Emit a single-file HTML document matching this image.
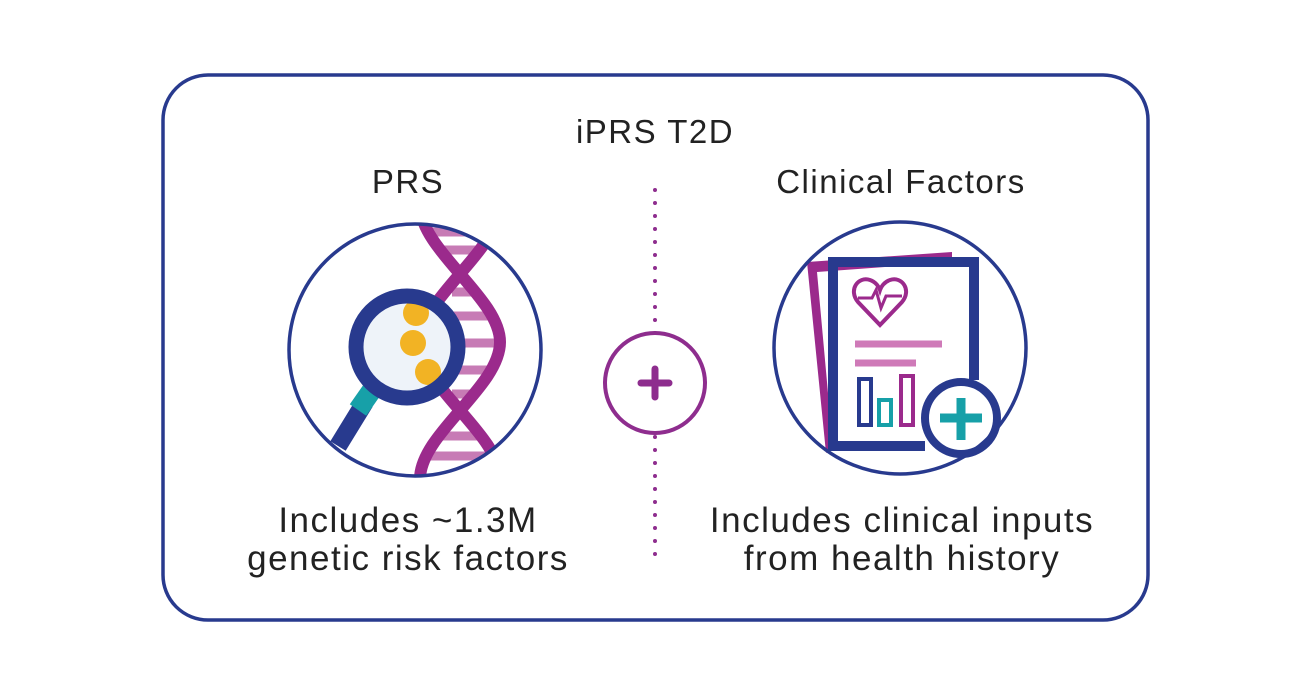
<!DOCTYPE html>
<html><head><style>body{margin:0;background:#fff}svg{display:block}</style></head><body>
<svg width="1311" height="686" viewBox="0 0 1311 686" xmlns="http://www.w3.org/2000/svg" font-family="Liberation Sans, sans-serif">
<defs>
<clipPath id="c1"><circle cx="415" cy="350" r="125"/></clipPath>
<clipPath id="lens"><circle cx="407" cy="347" r="50"/></clipPath>
</defs>
<rect x="163" y="75" width="985" height="545" rx="45" fill="none" stroke="#283a8e" stroke-width="3.5"/>
<g font-size="33" fill="#222" text-anchor="middle" letter-spacing="1.5">
<text x="655" y="143">iPRS T2D</text>
<text x="408" y="193">PRS</text>
<text x="901" y="193">Clinical Factors</text>
</g>
<line x1="655" y1="190" x2="655" y2="562" stroke="#8e2d8e" stroke-width="4" stroke-dasharray="0 13" stroke-linecap="round"/>
<circle cx="655" cy="383" r="50" fill="#fff" stroke="#8e2d8e" stroke-width="4"/>
<path d="M655 369v28M641 383h28" stroke="#8e2d8e" stroke-width="7" stroke-linecap="round"/>
<g font-size="35" fill="#222" text-anchor="middle" letter-spacing="1.5">
<text x="408" y="532">Includes ~1.3M</text>
<text x="408" y="570">genetic risk factors</text>
<text x="902" y="532">Includes clinical inputs</text>
<text x="902" y="570">from health history</text>
</g>
<g clip-path="url(#c1)">
<g stroke="#c77bb5" stroke-width="9">
<line x1="428" y1="232" x2="488" y2="232"/><line x1="436" y1="250" x2="482" y2="250"/>
<line x1="452" y1="292" x2="478" y2="292"/><line x1="446" y1="316" x2="494" y2="316"/>
<line x1="440" y1="343" x2="500" y2="343"/><line x1="446" y1="370" x2="494" y2="370"/>
<line x1="452" y1="394" x2="478" y2="394"/><line x1="436" y1="436" x2="482" y2="436"/>
<line x1="428" y1="456" x2="490" y2="456"/>
</g>
<path d="M420 205 C420 250 500 298 500 342 C500 387 420 434 420 479" fill="none" stroke="#9b2a8c" stroke-width="12"/>
<path d="M500 205 C500 250 420 298 420 342 C420 387 500 434 500 479" fill="none" stroke="#9b2a8c" stroke-width="12"/>
</g>
<line x1="338" y1="446" x2="365" y2="402" stroke="#283a8e" stroke-width="18"/>
<line x1="358" y1="410" x2="372" y2="390" stroke="#17a0a8" stroke-width="20"/>
<circle cx="407" cy="347" r="51" fill="#eef3f9"/>
<g clip-path="url(#lens)">
<circle cx="416" cy="313" r="13" fill="#f2b324"/><circle cx="413" cy="343" r="13" fill="#f2b324"/><circle cx="428" cy="372" r="13" fill="#f2b324"/>
</g>
<circle cx="407" cy="347" r="51" fill="none" stroke="#283a8e" stroke-width="15"/>
<circle cx="415" cy="350" r="126" fill="none" stroke="#283a8e" stroke-width="3.5"/>
<polygon points="807,262 952,252 952,262 817,272 833,448 826,453" fill="#9b2a8c"/>
<path d="M974 380 V262 H833 V446 H925" fill="none" stroke="#283a8e" stroke-width="10"/>
<path d="M880 325 L858 302 C848 290 858 276 870 280 C876 282 879 287 880 290 C881 287 884 282 890 280 C902 276 912 290 902 302 Z" fill="none" stroke="#9b2a8c" stroke-width="4"/>
<path d="M858 298 H872 L876 290 L881 308 L886 296 H902" fill="none" stroke="#9b2a8c" stroke-width="3"/>
<line x1="855" y1="344" x2="942" y2="344" stroke="#cf7ab8" stroke-width="7"/>
<line x1="855" y1="363" x2="916" y2="363" stroke="#cf7ab8" stroke-width="7"/>
<rect x="859" y="379" width="12" height="46" fill="none" stroke="#283a8e" stroke-width="4"/>
<rect x="879" y="400" width="12" height="25" fill="none" stroke="#17a0a8" stroke-width="4"/>
<rect x="901" y="376" width="12" height="49" fill="none" stroke="#9b2a8c" stroke-width="4"/>
<circle cx="961" cy="418" r="36" fill="#fff" stroke="#283a8e" stroke-width="8"/>
<path d="M961 398v42M940 418h42" stroke="#17a0a8" stroke-width="9"/>
<circle cx="900" cy="348" r="126" fill="none" stroke="#283a8e" stroke-width="3.5"/>
</svg>
</body></html>
